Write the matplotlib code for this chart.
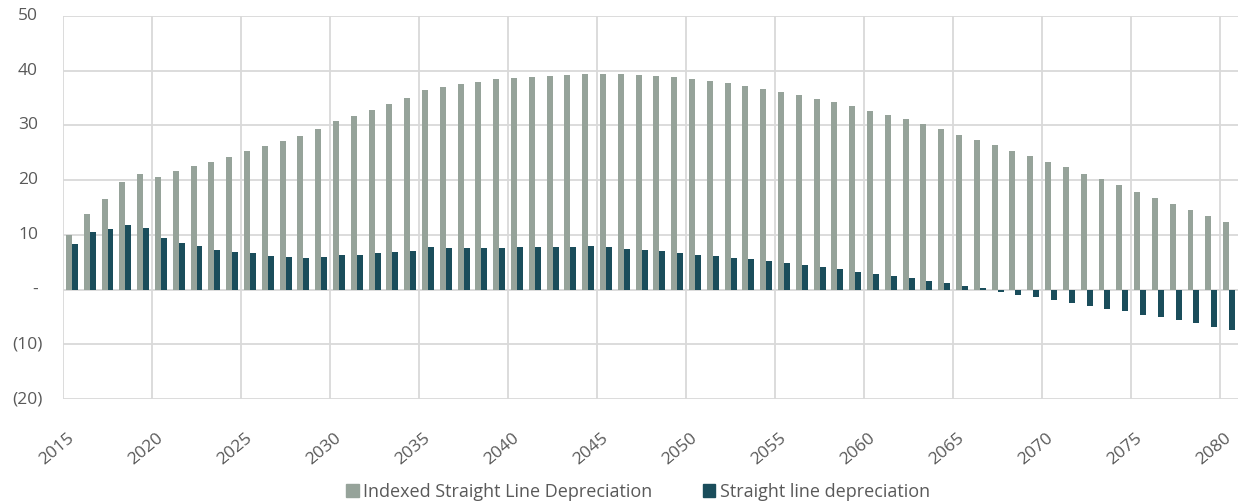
import matplotlib
matplotlib.use("Agg")
import matplotlib.pyplot as plt
import numpy as np
from matplotlib.patches import Patch

years = list(range(2015, 2081))

indexed_sl = [
    9.9, 13.9, 16.6, 19.7, 21.1, 20.6, 21.6, 22.5, 23.3, 24.3,
    25.3, 26.2, 27.1, 28.0, 29.4, 30.8, 31.7, 32.9, 34.0, 35.1,
    36.4, 37.0, 37.5, 38.0, 38.4, 38.6, 38.9, 39.1, 39.3, 39.4,
    39.4, 39.4, 39.2, 39.0, 38.8, 38.5, 38.2, 37.7, 37.2, 36.7,
    36.2, 35.5, 34.9, 34.2, 33.5, 32.7, 31.9, 31.1, 30.2, 29.3,
    28.3, 27.4, 26.4, 25.4, 24.5, 23.4, 22.4, 21.2, 20.2, 19.1,
    17.9, 16.8, 15.7, 14.6, 13.5, 12.4,
]

straight_sl = [
    8.3, 10.5, 11.0, 11.8, 11.2, 9.4, 8.6, 7.9, 7.2, 6.9,
    6.6, 6.1, 5.9, 5.7, 6.0, 6.3, 6.3, 6.6, 6.8, 7.1,
    7.7, 7.6, 7.6, 7.6, 7.6, 7.8, 7.8, 7.8, 7.8, 7.9,
    7.7, 7.5, 7.2, 7.0, 6.7, 6.4, 6.1, 5.8, 5.5, 5.2,
    4.9, 4.4, 4.1, 3.8, 3.3, 2.9, 2.5, 2.1, 1.6, 1.2,
    0.7, 0.3, -0.4, -1.0, -1.4, -1.9, -2.4, -3.0, -3.5, -4.0,
    -4.6, -5.1, -5.6, -6.2, -6.8, -7.3,
]

y_ticks = [-20, -10, 0, 10, 20, 30, 40, 50]
y_tick_labels = ["(20)", "(10)", "-", "10", "20", "30", "40", "50"]
series_names = ["Indexed Straight Line Depreciation", "Straight line depreciation"]

GRAY = "#96A39A"
TEAL = "#1A4D5B"
TEXT = "#595959"
GRID = "#D9D9D9"

plt.rcParams["font.family"] = ["Open Sans", "DejaVu Sans"]

fig = plt.figure(figsize=(12.39, 5.04), dpi=100)
ax = fig.add_axes([63 / 1239, 1 - 399 / 504, 1175 / 1239, 383 / 504])

x = np.arange(len(years))
w = 0.335
ax.bar(x - w / 2, indexed_sl, width=w, color=GRAY, zorder=3)
ax.bar(x + w / 2, straight_sl, width=w, color=TEAL, zorder=3)

ax.set_xlim(-0.5, len(years) - 0.5)
ax.set_ylim(-20, 50)

# horizontal gridlines
for v in y_ticks:
    ax.axhline(v, color=GRID, lw=1.3, zorder=1)
ax.set_yticks([])

# vertical gridlines between categories every 5 years
for b in np.arange(-0.5, len(years), 5):
    ax.axvline(b, color=GRID, lw=1.3, zorder=1)

# y labels in accounting style: positives leave room for a closing paren
ytr = ax.get_yaxis_transform()
for v, lab in zip(y_ticks, y_tick_labels):
    off = -20 / 1175 if lab.startswith("(") else -25 / 1175
    ax.text(off, v, lab, transform=ytr, ha="right", va="center",
            fontsize=12.5, color=TEXT)

# x tick labels every 5 years, rotated
label_idx = x[::5]
ax.set_xticks(label_idx)
ax.set_xticklabels([str(years[i]) for i in label_idx], rotation=40,
                   ha="right", va="center", rotation_mode="anchor",
                   fontsize=12.5, color=TEXT)
ax.tick_params(axis="x", length=0, pad=27)

for s in ax.spines.values():
    s.set_visible(False)

handles = [Patch(color=GRAY), Patch(color=TEAL)]
fig.legend(handles, series_names, loc="center",
           bbox_to_anchor=(638 / 1239, 1 - 492 / 504),
           ncol=2, frameon=False, fontsize=13, handlelength=0.7,
           handleheight=0.7, handletextpad=0.25, columnspacing=2.8,
           labelcolor=TEXT)

fig.savefig("out.png", dpi=100)
